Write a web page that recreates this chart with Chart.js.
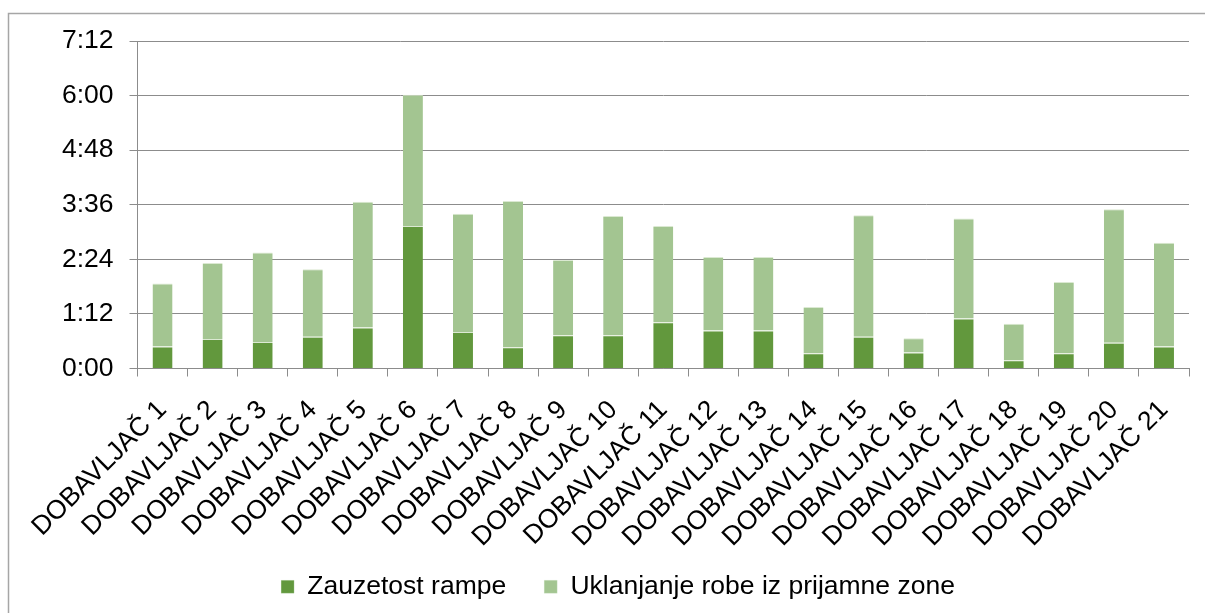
<!DOCTYPE html>
<html>
<head>
<meta charset="utf-8">
<script src="https://cdn.jsdelivr.net/npm/chart.js@4.4.0/dist/chart.umd.min.js"></script>
<style>
html,body{margin:0;padding:0;background:#fff;}
#wrap{position:relative;width:1205px;height:613px;}
</style>
</head>
<body>
<div id="wrap"><canvas id="c" width="1205" height="613"></canvas></div>
<script>
const categories = ["DOBAVLJAČ 1","DOBAVLJAČ 2","DOBAVLJAČ 3","DOBAVLJAČ 4","DOBAVLJAČ 5","DOBAVLJAČ 6","DOBAVLJAČ 7","DOBAVLJAČ 8","DOBAVLJAČ 9","DOBAVLJAČ 10","DOBAVLJAČ 11","DOBAVLJAČ 12","DOBAVLJAČ 13","DOBAVLJAČ 14","DOBAVLJAČ 15","DOBAVLJAČ 16","DOBAVLJAČ 17","DOBAVLJAČ 18","DOBAVLJAČ 19","DOBAVLJAČ 20","DOBAVLJAČ 21"];
// values in minutes
const zauzetostRampe = [29, 39, 35, 42, 54, 188, 48, 28, 44, 44, 61, 50, 50, 20, 42, 21, 66, 11, 20, 34, 29];
const uklanjanjeRobe = [83, 100, 118, 89, 166, 173, 156, 193, 99, 157, 127, 97, 97, 61, 160, 19, 132, 48, 94, 176, 137];
const seriesNames = ["Zauzetost rampe", "Uklanjanje robe iz prijamne zone"];
const yTickMinutes = [0, 72, 144, 216, 288, 360, 432];

function fmt(m){ const h = Math.floor(m/60); const mm = Math.round(m%60); return h + ":" + (mm<10?"0":"") + mm; }

const frame = {
  id:'frame',
  beforeDraw(chart){
    // let rotated category labels overflow the scale box instead of being clipped
    const xs = chart.scales.x;
    if (xs) xs._computeLabelArea = function(){ return undefined; };
  },
  afterDraw(chart){
    const ctx = chart.ctx;
    ctx.save();
    ctx.strokeStyle = '#a6a6a6';
    ctx.lineWidth = 1.5;
    ctx.beginPath();
    ctx.moveTo(8.5, 613);
    ctx.lineTo(8.5, 13.5);
    ctx.lineTo(1205, 13.5);
    ctx.stroke();
    ctx.restore();
  }
};

const FONT = "'Liberation Sans', Arial, sans-serif";
new Chart(document.getElementById('c'), {
  type:'bar',
  data:{
    labels:categories,
    datasets:[
      {label:seriesNames[0], data:zauzetostRampe, backgroundColor:'#62983d', borderColor:'#dbe9d2', borderWidth:{top:1,left:0,right:0,bottom:0}, borderSkipped:false},
      {label:seriesNames[1], data:uklanjanjeRobe, backgroundColor:'#a3c591', borderColor:'#dbe9d2', borderWidth:{top:1,left:0,right:0,bottom:0}, borderSkipped:false}
    ]
  },
  options:{
    responsive:false,
    animation:false,
    layout:{padding:{left:47, right:16, top:41, bottom:3}},
    datasets:{bar:{categoryPercentage:1.0, barPercentage:0.4}},
    plugins:{
      legend:{
        position:'bottom',
        labels:{font:{family:FONT,size:26.5}, color:'#000', boxWidth:13, boxHeight:13, padding:38}
      },
      tooltip:{enabled:false}
    },
    scales:{
      x:{
        stacked:true,
        afterFit(scale){ scale.height = 167; },
        grid:{display:true, drawOnChartArea:false, drawTicks:true, tickLength:8, color:'#8c8c8c', offset:true},
        border:{color:'#8c8c8c', width:1},
        ticks:{font:{family:FONT,size:26.5}, color:'#000', minRotation:45, maxRotation:45, autoSkip:false, padding:18}
      },
      y:{
        stacked:true,
        min:0, max:432,
        afterBuildTicks(scale){ scale.ticks = yTickMinutes.map(v=>({value:v})); },
        afterFit(scale){ scale.width = 90.5; },
        grid:{color:'#8c8c8c', tickLength:8, drawTicks:true},
        border:{color:'#8c8c8c', width:1},
        ticks:{font:{family:FONT,size:26.5}, color:'#000', padding:16, callback:(v)=>fmt(v)}
      }
    }
  },
  plugins:[frame]
});
</script>
</body>
</html>
